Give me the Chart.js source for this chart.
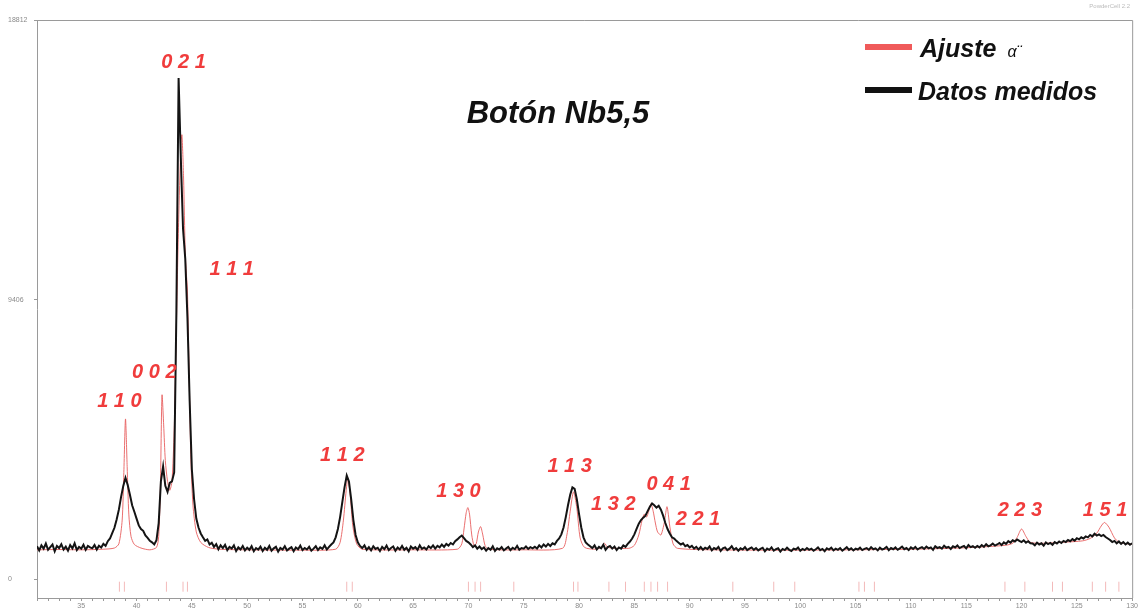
<!DOCTYPE html>
<html>
<head>
<meta charset="utf-8">
<script src="https://cdn.jsdelivr.net/npm/chart.js@4.4.1/dist/chart.umd.min.js"></script>
<style>
  body { margin: 0; background: #fff; }
  #wrap { width: 1139px; height: 614px; }
</style>
</head>
<body>
<div id="wrap"><canvas id="xrd"></canvas></div>
<script>
// measured pattern, 2theta from 31.0 in steps of 0.2 deg
const measuredStart = 31.0;
const measuredStep = 0.2;
const measuredCounts = [
  // 31.0 - 35.8
  1120, 980, 1150, 1040, 1210, 1000, 1090, 1180, 950, 1130, 1060, 1190, 1010, 1110, 970, 1160, 1050, 1220, 990, 1100, 1040, 1170, 1000, 1130, 1080,
  // 36.0 - 40.8
  1050, 1160, 1010, 1140, 1080, 1200, 1130, 1290, 1380, 1560, 1740, 2020, 2350, 2780, 3150, 3420, 3180, 2850, 2500, 2280, 2050, 1820, 1700, 1640, 1480,
  // 41.0 - 45.8
  1400, 1300, 1250, 1180, 1320, 1900, 3300, 3800, 3150, 2950, 3250, 3300, 3600, 9000, 16860, 14200, 11800, 10800, 8800, 6000, 3700, 2700, 2050, 1750, 1550,
  // 46.0 - 50.8
  1420, 1300, 1350, 1180, 1240, 1100, 1190, 1020, 1150, 1060, 1170, 990, 1100, 1040, 1150, 960, 1080, 1010, 1130, 980, 1070, 1000, 1120, 950, 1060,
  // 51.0 - 55.8
  1010, 1110, 960, 1070, 1000, 1130, 970, 1050, 1100, 940, 1060, 1010, 1120, 980, 1040, 1090, 950, 1080, 1020, 1140, 990, 1060, 1010, 1100, 970,
  // 56.0 - 60.8
  1040, 1120, 990, 1080, 1030, 1150, 1010, 1100, 1180, 1250, 1420, 1700, 2100, 2600, 3100, 3500, 3300, 2700, 2000, 1500, 1250, 1130, 1060, 1150, 1000,
  // 61.0 - 65.8
  1090, 980, 1120, 1030, 1070, 960, 1100, 1020, 1140, 990, 1060, 1110, 970, 1080, 1010, 1130, 1000, 1070, 950, 1110, 1040, 1090, 1000, 1150, 1030,
  // 66.0 - 70.8
  1080, 1010, 1120, 1060, 1150, 1040, 1130, 1080, 1180, 1100, 1200, 1140, 1230, 1180, 1290, 1350, 1420, 1480, 1390, 1300, 1250, 1180, 1090, 1150, 1040,
  // 71.0 - 75.8
  1110, 1020, 1080, 970, 1060, 1000, 1120, 960, 1050, 1010, 1090, 980, 1040, 1100, 990, 1070, 1020, 1130, 1000, 1060, 1040, 1110, 1030, 1090, 1050,
  // 76.0 - 80.8
  1100, 1040, 1150, 1080, 1180, 1110, 1200, 1130, 1220, 1180, 1300, 1380, 1520, 1750, 2100, 2500, 2850, 3100, 3050, 2700, 2200, 1750, 1420, 1250, 1180,
  // 81.0 - 85.8
  1120, 1060, 1150, 1010, 1100, 1050, 1170, 1000, 1090, 1130, 1040, 1110, 990, 1080, 1040, 1150, 1100, 1200, 1280, 1380, 1520, 1700, 1880, 2000, 2080,
  // 86.0 - 90.8
  2150, 2300, 2450, 2560, 2500, 2420, 2480, 2350, 2150, 1900, 1700, 1550, 1420, 1380, 1300, 1240, 1180, 1220, 1120, 1160, 1080, 1130, 1040, 1100, 1010,
  // 91.0 - 95.8
  1090, 1000, 1070, 1030, 1110, 980, 1060, 1020, 1100, 960, 1050, 1080, 990, 1040, 1120, 1000, 1060, 970, 1050, 1010, 1090, 990, 1040, 1080, 1000,
  // 96.0 - 100.8
  1060, 980, 1030, 1070, 950, 1040, 1000, 1080, 970, 1020, 1050, 940, 1030, 990, 1070, 1000, 960, 1040, 1010, 1080, 970, 1030, 990, 1060, 1000,
  // 101.0 - 105.8
  1040, 970, 1020, 1080, 990, 1030, 950, 1050, 1010, 1070, 980, 1040, 1000, 1060, 970, 1030, 1090, 1000, 1050, 980, 1040, 1010, 1070, 990, 1030,
  // 106.0 - 110.8
  1060, 1000, 1090, 1020, 1050, 980, 1070, 1010, 1040, 1100, 990, 1060, 1020, 1080, 1000, 1050, 1110, 1020, 1060, 990, 1080, 1030, 1100, 1010, 1060,
  // 111.0 - 115.8
  1090, 1030, 1110, 1050, 1080, 1000, 1120, 1060, 1090, 1040, 1140, 1070, 1100, 1030, 1120, 1080, 1150, 1060, 1100, 1130, 1050, 1160, 1090, 1120, 1070,
  // 116.0 - 120.8
  1130, 1080, 1160, 1100, 1190, 1120, 1150, 1210, 1140, 1180, 1230, 1160, 1250, 1200, 1290, 1240, 1320, 1280, 1350, 1300, 1260, 1320, 1240, 1290, 1220,
  // 121.0 - 125.8
  1210, 1150, 1240, 1180, 1220, 1140, 1250, 1190, 1230, 1170, 1260, 1210, 1280, 1230, 1300, 1260, 1330, 1290, 1360, 1310, 1390, 1350, 1420, 1380, 1450,
  // 126.0 - 130.0
  1420, 1500, 1450, 1540, 1480, 1520, 1460, 1500, 1430, 1380, 1330, 1260, 1300, 1220, 1280, 1200, 1260, 1180, 1240, 1170, 1220
];

// calculated alpha'' profile
const fitTheta = [
  31, 33, 35, 37, 38.0, 38.4, 38.7, 38.85, 39.0, 39.15, 39.3, 39.5, 39.8, 40.4, 41.2, 41.8,
  42.0, 42.15, 42.3, 42.45, 42.6, 42.8, 43.0, 43.2, 43.4, 43.6, 43.8, 44.0, 44.1, 44.25, 44.4, 44.5,
  44.6, 44.75, 44.9, 45.1, 45.4, 45.8, 46.5, 47.5, 50, 55, 58.0, 58.4, 58.7, 58.95, 59.1, 59.3,
  59.55, 59.9, 60.4, 65, 69.0, 69.4, 69.6, 69.8, 69.95, 70.1, 70.3, 70.5, 70.7, 70.9, 71.1, 71.3,
  71.5, 71.8, 75, 78.5, 78.9, 79.2, 79.5, 79.8, 80.1, 80.5, 81.5, 82.0, 82.3, 82.6, 84.5, 85.0,
  85.4, 85.7, 85.9, 86.1, 86.3, 86.5, 86.7, 86.9, 87.1, 87.4, 87.7, 87.95, 88.2, 88.5, 88.9, 92,
  100, 110, 115, 118.5, 119.2, 119.6, 120.0, 120.4, 120.8, 122, 124, 125.5, 126.2, 126.8, 127.2, 127.5,
  127.9, 128.4, 128.8, 129.4, 130
];
const fitCounts = [
  1000, 1010, 1000, 1020, 1060, 1200, 2000, 3600, 5400, 3800, 2200, 1450, 1180, 1060, 1000, 1080,
  1450, 3000, 6200, 5200, 4000, 3300, 3000, 3300, 5000, 8500, 12000, 14500, 14950, 13500, 11000, 10300,
  9700, 7000, 4200, 2500, 1600, 1250, 1080, 1020, 1000, 990, 1020, 1250, 2000, 3000, 3400, 2900,
  1800, 1200, 1020, 1000, 1020, 1200, 1700, 2250, 2420, 2200, 1500, 1150, 1200, 1600, 1780, 1500,
  1150, 1020, 1000, 1050, 1500, 2300, 2950, 2400, 1400, 1080, 1020, 1080, 1220, 1080, 1050, 1150,
  1500, 2000, 2200, 2100, 2300, 2550, 2300, 1900, 1600, 1500, 1900, 2450, 1800, 1200, 1050, 1000,
  990, 1020, 1070, 1150, 1220, 1420, 1700, 1450, 1250, 1220, 1260, 1300, 1380, 1560, 1800, 1920,
  1760, 1400, 1260, 1210, 1190
];

// reflection positions of the alpha'' phase
const braggTheta = [
  38.45, 38.9, 42.7, 44.2, 44.6, 59.0, 59.5, 70.0, 70.6, 71.1, 74.1, 79.5, 79.9, 82.7, 84.2, 85.9,
  86.5, 87.1, 88.0, 93.9, 97.6, 99.5, 105.3, 105.8, 106.7, 118.5, 120.3, 122.8, 123.7, 126.4, 127.6, 128.8
];

// Miller index labels: text, 2theta, counts (baseline)
const hklText = ["0 2 1", "1 1 1", "0 0 2", "1 1 0", "1 1 2", "1 3 0", "1 1 3", "1 3 2", "0 4 1", "2 2 1", "2 2 3", "1 5 1"];
const hklTheta = [44.25, 48.6, 41.6, 38.45, 58.6, 69.1, 79.15, 83.1, 88.1, 90.75, 119.85, 127.55];
const hklCounts = [17200, 10250, 6790, 5810, 4000, 2790, 3600, 2350, 3020, 1850, 2150, 2150];

const yTicks = [0, 9406, 18812];

const measured = measuredCounts.map((c, i) => ({ x: +(measuredStart + i * measuredStep).toFixed(1), y: c }));
const fit = fitTheta.map((t, i) => ({ x: t, y: fitCounts[i] }));
const bragg = braggTheta.map((t) => ({ x: t, y: -240 }));

const FONT = "'Liberation Sans', Arial, sans-serif";

const decorations = {
  id: "decorations",
  afterDatasetsDraw(chart) {
    const { ctx, chartArea: a, scales } = chart;
    ctx.save();

    // frame top and right
    ctx.strokeStyle = "#9a9a9a";
    ctx.lineWidth = 1;
    ctx.beginPath();
    ctx.moveTo(a.left, a.top + 0.5);
    ctx.lineTo(a.right + 0.5, a.top + 0.5);
    ctx.lineTo(a.right + 0.5, a.bottom);
    ctx.stroke();

    // hkl labels
    ctx.fillStyle = "#f03c3c";
    ctx.font = "bold italic 20px " + FONT;
    ctx.textAlign = "center";
    ctx.textBaseline = "alphabetic";
    hklText.forEach((t, i) => {
      ctx.fillText(t, scales.x.getPixelForValue(hklTheta[i]), scales.y.getPixelForValue(hklCounts[i]));
    });

    // sample name
    ctx.fillStyle = "#111";
    ctx.font = "bold italic 31px " + FONT;
    ctx.fillText("Botón Nb5,5", 558, 123);

    // legend
    ctx.textAlign = "left";
    ctx.fillStyle = "#f05a5a";
    ctx.fillRect(865, 44, 47, 6);
    ctx.fillStyle = "#111";
    ctx.fillRect(865, 87, 47, 6);
    ctx.font = "bold italic 25px " + FONT;
    ctx.fillText("Ajuste", 920, 57);
    const w = ctx.measureText("Ajuste").width;
    ctx.font = "italic 16px " + FONT;
    ctx.fillText("α¨", 920 + w + 11, 57);
    ctx.font = "bold italic 25px " + FONT;
    ctx.fillText("Datos medidos", 918, 100);

    // program tag
    ctx.fillStyle = "#bbb";
    ctx.font = "6px " + FONT;
    ctx.textAlign = "right";
    ctx.fillText("PowderCell 2.2", 1130, 8);
    ctx.restore();
  }
};

new Chart(document.getElementById("xrd"), {
  type: "line",
  data: {
    datasets: [
      {
        label: "Datos medidos",
        data: measured,
        borderColor: "#141414",
        borderWidth: 2,
        pointRadius: 0,
        tension: 0,
      },
      {
        label: "Ajuste α¨",
        data: fit,
        borderColor: "rgba(232, 95, 95, 0.9)",
        borderWidth: 1,
        pointRadius: 0,
        tension: 0.25,
      },
      {
        type: "scatter",
        label: "reflexiones",
        data: bragg,
        pointStyle: "line",
        rotation: 90,
        radius: 5,
        borderColor: "rgba(235, 140, 140, 0.6)",
        borderWidth: 1,
        showLine: false,
      },
    ],
  },
  options: {
    responsive: true,
    maintainAspectRatio: false,
    animation: false,
    layout: { padding: { top: 20, right: 6, left: 8, bottom: 0 } },
    plugins: { legend: { display: false }, tooltip: { enabled: false } },
    scales: {
      x: {
        type: "linear",
        min: 31,
        max: 130,
        afterFit: (s) => { s.height = 16; },
        ticks: {
          stepSize: 1,
          autoSkip: false,
          maxRotation: 0,
          padding: 1,
          color: "#8a8a8a",
          font: { size: 7, family: FONT },
          callback: (v) => (v % 5 === 0 ? String(v) : ""),
        },
        grid: { drawOnChartArea: false, tickLength: 3, color: "#9a9a9a" },
        border: { color: "#9a9a9a" },
      },
      y: {
        min: -620,
        max: 18812,
        afterFit: (s) => { s.width = 29; },
        afterBuildTicks: (s) => { s.ticks = yTicks.map((v) => ({ value: v })); },
        ticks: {
          crossAlign: "far",
          color: "#8a8a8a",
          font: { size: 7, family: FONT },
          callback: (v) => String(v),
        },
        grid: { drawOnChartArea: false, tickLength: 3, color: "#9a9a9a" },
        border: { color: "#9a9a9a" },
      },
    },
  },
  plugins: [decorations],
});
</script>
</body>
</html>
